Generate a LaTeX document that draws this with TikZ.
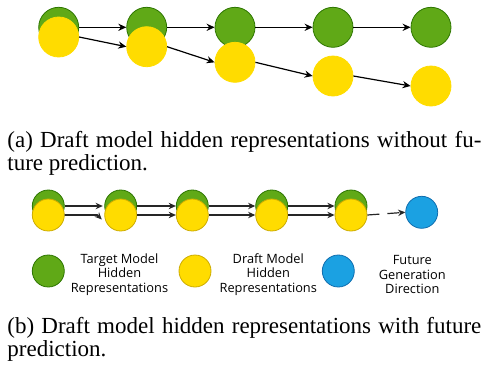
\documentclass[tikz,border=0pt]{standalone}
\usepackage{fontspec}
\setmainfont{Liberation Serif}
\newfontfamily\legendfont{Open Sans}
\usepackage{xcolor}
\usetikzlibrary{arrows.meta,calc}
\definecolor{dotgreen}{RGB}{96,169,23}
\definecolor{dotgreenline}{RGB}{45,118,0}
\definecolor{dotyellow}{RGB}{255,220,0}
\definecolor{dotyellowline}{RGB}{205,172,0}
\definecolor{dotblue}{RGB}{27,161,226}
\definecolor{dotblueline}{RGB}{16,110,175}

\begin{document}
\begin{tikzpicture}[x=0.5pt,y=0.5pt,yscale=-1,
  bigdot/.style={circle,inner sep=0pt,minimum size=20pt,line width=0.4pt},
  smalldot/.style={circle,inner sep=0pt,minimum size=16pt,line width=0.4pt},
  tgt/.style={fill=dotgreen,draw=dotgreenline},
  drf/.style={fill=dotyellow,draw=dotyellow},
  drfb/.style={fill=dotyellow,draw=dotyellowline},
  fut/.style={fill=dotblue,draw=dotblueline},
  link/.style={line width=0.6pt,-{Stealth[length=4pt,width=3.6pt]}},
  linkb/.style={line width=0.8pt,black!85,-{Stealth[length=3.6pt,width=3.2pt]}},
  legendtxt/.style={align=center,inner sep=0pt,font=\legendfont\fontsize{6.4}{7.25}\selectfont},
  captxt/.style={anchor=north west,inner sep=0pt,text width=237pt,align=justify}]
\useasboundingbox (0,0) rectangle (489,365);

%Shape: Circle -- target states, without future prediction
\node [bigdot,tgt] (g1) at (58.7,27.3) {};
\node [bigdot,tgt] (g2) at (146.7,27.3) {};
\node [bigdot,tgt] (g3) at (235,27.3) {};
\node [bigdot,tgt] (g4) at (333,27.3) {};
\node [bigdot,tgt] (g5) at (431,27.3) {};
%Shape: Circle -- draft states, drifting away
\node [bigdot,drf] (y1) at (58.7,37) {};
\node [bigdot,drf] (y2) at (146.7,46.7) {};
\node [bigdot,drf] (y3) at (235,62.3) {};
\node [bigdot,drf] (y4) at (333,76) {};
\node [bigdot,drf] (y5) at (431,86) {};
%Straight Lines
\draw [link] (g1.east) -- (g2.west);
\draw [link] (g2.east) -- (g3.west);
\draw [link] (g3.east) -- (g4.west);
\draw [link] (g4.east) -- (g5.west);
\draw [link] (y1.east) -- (y2.west);
\draw [link] (y2.east) -- (y3.west);
\draw [link] (y3.east) -- (y4.west);
\draw [link] (y4.east) -- (y5.west);

% Text Node
\node [captxt,font=\fontsize{11.5}{11.3}\selectfont] (capa) at (7,131) {(a) Draft model hidden representations without fu-\linebreak ture prediction.};

%Shape: Circle -- with future prediction
\node [smalldot,tgt] (t1) at (48.3,206) {};
\node [smalldot,tgt] (t2) at (120.7,206) {};
\node [smalldot,tgt] (t3) at (192.3,206) {};
\node [smalldot,tgt] (t4) at (271.7,206) {};
\node [smalldot,tgt] (t5) at (351,206) {};
\node [smalldot,drfb] (d1) at (48.3,215) {};
\node [smalldot,drfb] (d2) at (120.7,215) {};
\node [smalldot,drfb] (d3) at (192.3,215) {};
\node [smalldot,drfb] (d4) at (271.7,215) {};
\node [smalldot,drfb] (d5) at (351,215) {};
\node [smalldot,fut] (f1) at (421.7,212.3) {};
%Straight Lines
\draw [linkb] (t1.east) -- ($(t2.west)+(-1.5,0)$);
\draw [linkb] (d1.east) -- ($(d2.west)+(-7,0)$) -- ($(d2.west)+(-2.5,4.5)$);
\draw [linkb] (t2.east) -- (t3.west);
\draw [linkb] (d2.east) -- (d3.west);
\draw [linkb] (t3.east) -- (t4.west);
\draw [linkb] (d3.east) -- (d4.west);
\draw [linkb] (t4.east) -- (t5.west);
\draw [linkb] (d4.east) -- (d5.west);
\draw [linkb,dash pattern=on 6pt off 4pt,line width=0.6pt] (d5.east) -- (f1.west);

%Shape: Circle -- legend
\node [smalldot,tgt] (lg) at (48.3,271) {};
\node [smalldot,drfb] (ly) at (195,271) {};
\node [smalldot,fut] (lb) at (338.3,271) {};
% Text Node
\node [legendtxt] (lgt) at (119.5,274.5) {Target Model\\Hidden\\Representations};
\node [legendtxt] (lyt) at (268.3,274.5) {Draft Model\\Hidden\\Representations};
\node [legendtxt] (lbt) at (412.3,274.5) {Future\\Generation\\Direction};

% Text Node
\node [captxt,font=\fontsize{11.5}{9.7}\selectfont] (capb) at (7,317) {(b) Draft model hidden representations with future\linebreak prediction.};

\end{tikzpicture}
\end{document}
